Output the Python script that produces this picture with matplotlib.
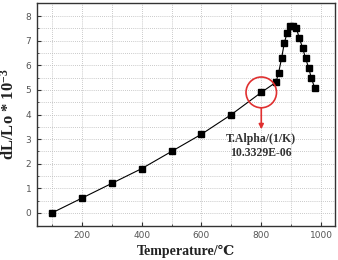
import matplotlib
matplotlib.use("Agg")
from matplotlib import pyplot as plt
from matplotlib.patches import Ellipse

# Dilatometer curve: temperature (C) vs dL/Lo * 10^-3
temps = [100, 200, 300, 400, 500, 600, 700, 800,
         849, 858, 868, 877, 886, 897, 906, 917, 927, 938, 948, 959, 967, 979]
dl_lo = [0.0, 0.6, 1.2, 1.8, 2.5, 3.2, 4.0, 4.9,
         5.31, 5.70, 6.29, 6.91, 7.30, 7.61, 7.60, 7.53, 7.11, 6.72, 6.29, 5.88, 5.50, 5.07]

x_ticks = [200, 400, 600, 800, 1000]
y_ticks = [0, 1, 2, 3, 4, 5, 6, 7, 8]

marked_temp = 800
marked_value = 4.9
note_lines = ["T.Alpha/(1/K)", "10.3329E-06"]

SERIF = ["Liberation Serif", "DejaVu Serif"]
plt.rcParams["mathtext.default"] = "regular"

fig = plt.figure(figsize=(3.38, 2.6), dpi=100)
ax = fig.add_axes([0.1095, 0.131, 0.882, 0.857])

ax.plot(temps, dl_lo, color="black", lw=0.8, marker="s", ms=4.0,
        mfc="black", mec="black", zorder=3)

ax.set_xlim(50, 1047)
ax.set_ylim(-0.53, 8.53)
ax.set_xticks(x_ticks)
ax.set_yticks(y_ticks)
ax.set_xticks(range(100, 1001, 100), minor=True)
ax.set_yticks([v / 2 for v in range(0, 17)], minor=True)
ax.grid(True, which="both", color="#b8b8b8", ls=(0, (1, 1.5)), lw=0.6)
ax.set_axisbelow(True)
ax.tick_params(which="major", direction="in", length=3, width=0.8,
               labelsize=6.5, labelcolor="#555555", color="#333333", pad=4)
ax.tick_params(which="minor", direction="in", length=1.5, color="#333333")
for sp in ax.spines.values():
    sp.set_color("#333333")
    sp.set_linewidth(1.0)

ax.set_ylabel("dL/Lo * 10$^{-3}$", family=SERIF, fontweight="bold",
              fontsize=12, color="#222222", labelpad=6)
ax.set_xlabel("Temperature/\u2103", family=SERIF, fontweight="bold",
              fontsize=10, color="#222222", labelpad=3)

# red highlight circle and arrow at the marked point
circ = Ellipse((marked_temp, marked_value), width=102, height=1.25,
               fill=False, ec="#e03030", lw=1.2, zorder=4)
ax.add_patch(circ)
ax.annotate("", xy=(marked_temp, marked_value - 1.5),
            xytext=(marked_temp, marked_value - 0.63),
            arrowprops=dict(arrowstyle="-|>", color="#e03030", lw=1.2,
                            mutation_scale=7, shrinkA=0, shrinkB=0), zorder=4)
ax.text(marked_temp, marked_value - 2.18, "\n".join(note_lines), ha="center",
        va="center", family=SERIF, fontweight="bold", fontsize=8.5,
        color="#333333", linespacing=1.2)

fig.savefig("out.png", dpi=100)
